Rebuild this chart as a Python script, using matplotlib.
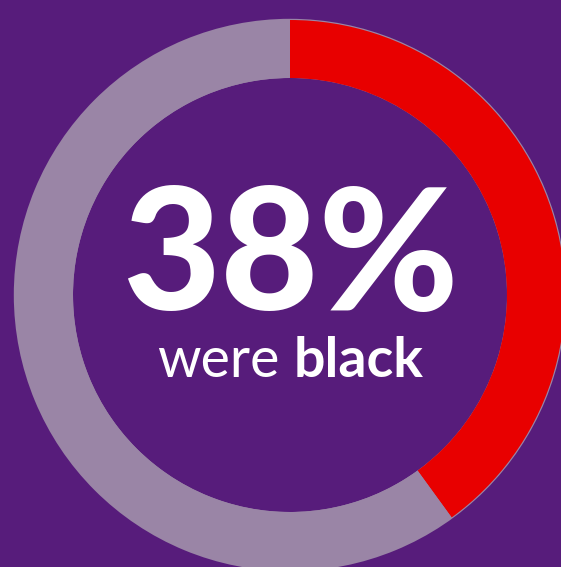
import matplotlib
matplotlib.use("Agg")
import matplotlib.pyplot as plt
from matplotlib import font_manager

# Data
categories = ["black", "other"]
arc_shares = [0.40, 0.60]          # share of ring as drawn
headline = "38%"
label_regular = "were"
label_bold = "black"

BG = "#571C7B"
RED = "#E80000"
GREY = "#9A85A6"

W, H = 561, 567
fig = plt.figure(figsize=(W / 100, H / 100), dpi=100, facecolor=BG)
ax = fig.add_axes([0, 0, 1, 1])
ax.set_facecolor(BG)

cx, cy = 290, H - 295
r_out, width = 275, 58

# grey underlay ring (slightly larger, shows as thin rim under red)
ax.pie([1], colors=[GREY], radius=r_out + 1.2, center=(cx, cy),
       wedgeprops=dict(width=width + 1.2, linewidth=0), frame=True)
ax.pie(arc_shares, colors=[RED, GREY], radius=r_out, center=(cx, cy),
       startangle=90, counterclock=False,
       wedgeprops=dict(width=width, linewidth=0), frame=True)
ax.set_xlim(0, W)
ax.set_ylim(0, H)
ax.axis("off")

fams = [f.name for f in font_manager.fontManager.ttflist]
fam = "Lato" if "Lato" in fams else "DejaVu Sans"

ax.text(cx, H - 310, headline, ha="center", va="baseline", color="white",
        fontsize=122, fontweight="black", family=fam)

t1 = ax.text(0, H - 377, label_regular, ha="left", va="baseline", color="white",
             fontsize=40, fontweight="normal", family=fam)
t2 = ax.text(0, H - 377, label_bold, ha="left", va="baseline", color="white",
             fontsize=40, fontweight="bold", family=fam)
fig.canvas.draw()
r = fig.canvas.get_renderer()
w1 = t1.get_window_extent(r).width
w2 = t2.get_window_extent(r).width
gap = 14
total = w1 + gap + w2
x0 = cx - total / 2
t1.set_x(x0)
t2.set_x(x0 + w1 + gap)

fig.savefig("out.png", dpi=100, facecolor=BG)
